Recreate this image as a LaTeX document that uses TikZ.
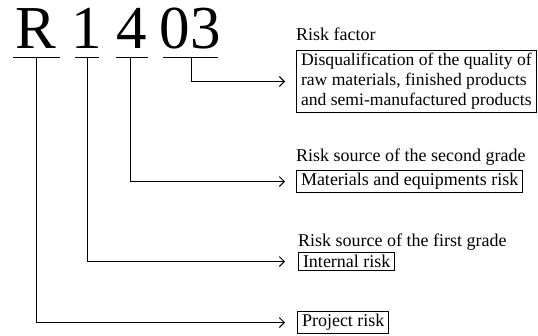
\documentclass[tikz,border=0pt]{standalone}
\usepackage{fontspec}
\setmainfont{Liberation Serif}
\usetikzlibrary{arrows.meta}
\begin{document}
\begin{tikzpicture}[x=1pt,y=-1pt,
  big/.style={inner sep=0pt,anchor=base,font=\fontsize{61}{61}\selectfont},
  lbl/.style={inner sep=0pt,anchor=base west,font=\fontsize{18}{20}\selectfont},
  box/.style={draw,line width=1pt,anchor=west,align=left,inner xsep=4.5pt,inner ysep=3pt,font=\fontsize{18}{20}\selectfont},
  uline/.style={line width=1pt},
  conn/.style={line width=1pt,-{Straight Barb[length=5pt,width=10pt,line width=1pt]}}]
\useasboundingbox (0,0) rectangle (538,335);
% code characters
\node[big] (cr) at (36,48) {R};
\node[big] (c1) at (87,48) {1};
\node[big] (c4) at (132,48) {4};
\node[big] (c03) at (190,48) {03};
% underlines
\coordinate (ur) at (36,57);
\coordinate (u1) at (87,57);
\coordinate (u4) at (130,57);
\coordinate (u03) at (191,57);
\draw[uline] (13,57) -- (60,57);
\draw[uline] (75,57) -- (99,57);
\draw[uline] (116,57) -- (148,57);
\draw[uline] (163,57) -- (218,57);
% labels
\node[lbl] (lf) at (296,40) {Risk factor};
\node[lbl] (l2) at (296,161) {Risk source of the second grade};
\node[lbl] (l1) at (298,246) {Risk source of the first grade};
% boxes
\node[box,font=\fontsize{17.6}{20}\selectfont,inner xsep=4.5pt] (bf) at (296,81.5) {Disqualification of the quality of\\raw materials, finished products\\and semi-manufactured products};
\node[box] (b2) at (296,181.5) {Materials and equipments risk};
\node[box] (b1) at (298,261.5) {Internal risk};
\node[box] (b0) at (297,322.5) {Project risk};
% connectors
\draw[conn] (u03) |- ([xshift=-11pt]bf.west);
\draw[conn] (u4) |- ([xshift=-11pt]b2.west);
\draw[conn] (u1) |- ([xshift=-13pt]b1.west);
\draw[conn] (ur) |- ([xshift=-12pt]b0.west);
\end{tikzpicture}
\end{document}
